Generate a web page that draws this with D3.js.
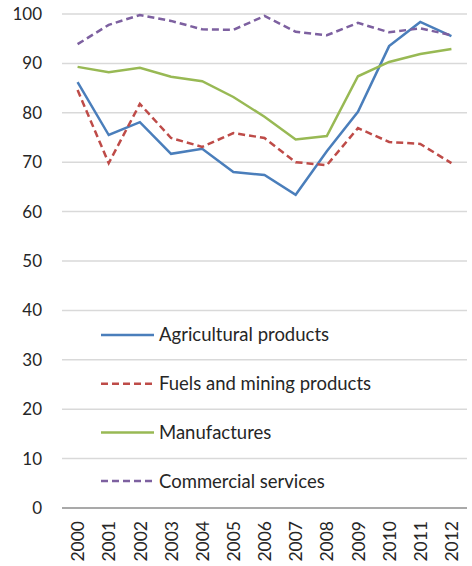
<!DOCTYPE html>
<html>
<head>
<meta charset="utf-8">
<script src="https://cdn.jsdelivr.net/npm/d3@7"></script>
<style>
  body { margin: 0; background: #fff; }
  text { font-family: Lato, "Open Sans", sans-serif; fill: #262626; }
</style>
</head>
<body>
<div id="chart"></div>
<script>
// Data
const years = ["2000", "2001", "2002", "2003", "2004", "2005", "2006", "2007", "2008", "2009", "2010", "2011", "2012"];
const agricultural = [86.2, 75.5, 78.1, 71.7, 72.7, 68.0, 67.4, 63.4, 72.2, 80.2, 93.5, 98.4, 95.5];
const fuels = [84.6, 69.8, 81.8, 74.9, 73.1, 75.9, 74.9, 70.0, 69.4, 76.9, 74.1, 73.7, 69.8];
const manufactures = [89.3, 88.2, 89.1, 87.3, 86.4, 83.2, 79.2, 74.6, 75.3, 87.4, 90.3, 91.9, 92.9];
const commercial = [93.9, 97.8, 99.8, 98.6, 96.9, 96.8, 99.6, 96.4, 95.7, 98.2, 96.3, 97.1, 95.7];
const yTicks = [0, 10, 20, 30, 40, 50, 60, 70, 80, 90, 100];

const seriesList = [
    {name: "Agricultural products", values: agricultural, color: "#4a7ebb", dash: null},
    {name: "Fuels and mining products", values: fuels, color: "#be4b48", dash: "7,4"},
    {name: "Manufactures", values: manufactures, color: "#98b954", dash: null},
    {name: "Commercial services", values: commercial, color: "#7d60a0", dash: "7,4"}
];

// Define margins
const width = 472, height = 566;
const margin = {top: 14, right: 5, bottom: 58, left: 62};
const plotWidth = width - margin.left - margin.right;
const plotHeight = height - margin.top - margin.bottom;

const svg = d3.select("#chart")
    .append("svg")
    .attr("width", width)
    .attr("height", height);

const g = svg.append("g")
    .attr("transform", `translate(${margin.left}, ${margin.top})`);

// Scales
const xScale = d3.scalePoint()
    .domain(years)
    .range([0, plotWidth])
    .padding(0.5);
const yScale = d3.scaleLinear()
    .domain([0, 100])
    .range([plotHeight, 0]);

// Gridlines
g.append("g")
    .selectAll("line")
    .data(yTicks.filter(t => t > 0))
    .enter()
    .append("line")
    .attr("x1", 0)
    .attr("x2", plotWidth)
    .attr("y1", d => yScale(d))
    .attr("y2", d => yScale(d))
    .style("stroke", "#d9d9d9")
    .style("stroke-width", "1.5px");

// Y axis labels
const yAxis = g.append("g")
    .call(d3.axisLeft(yScale).tickValues(yTicks).tickSize(0).tickPadding(20));
yAxis.select(".domain").remove();
yAxis.selectAll("text")
    .style("font-size", "17px")
    .style("font-family", "Lato, sans-serif")
    .attr("fill", "#262626");

// X axis
const xAxis = g.append("g")
    .attr("transform", `translate(0, ${plotHeight})`)
    .call(d3.axisBottom(xScale).tickSize(0).tickPadding(0));
xAxis.select(".domain")
    .attr("d", `M0,0H${plotWidth}`)
    .style("stroke", "#8c8c8c")
    .style("stroke-width", "1.5px");
xAxis.selectAll("text")
    .attr("transform", "rotate(-90)")
    .attr("x", -13)
    .attr("y", 0)
    .attr("dy", "0.35em")
    .style("text-anchor", "end")
    .style("font-size", "17.5px")
    .style("font-family", "Lato, sans-serif")
    .attr("fill", "#262626");

// Lines
const line = d3.line()
    .x((d, i) => xScale(years[i]))
    .y(d => yScale(d));

g.selectAll(".series")
    .data(seriesList)
    .enter()
    .append("path")
    .attr("class", "series")
    .attr("d", d => line(d.values))
    .style("fill", "none")
    .style("stroke", d => d.color)
    .style("stroke-width", "2.5px")
    .style("stroke-dasharray", d => d.dash);

// Legend
const legend = svg.append("g")
    .attr("transform", "translate(101, 335)");

const rows = legend.selectAll(".row")
    .data(seriesList)
    .enter()
    .append("g")
    .attr("class", "row")
    .attr("transform", (d, i) => `translate(0, ${i * 48.7})`);

rows.append("line")
    .attr("x1", 0)
    .attr("x2", 53)
    .style("stroke", d => d.color)
    .style("stroke-width", "2.5px")
    .style("stroke-dasharray", d => d.dash);

rows.append("text")
    .attr("x", 58)
    .attr("dy", "0.35em")
    .style("font-size", "18.5px")
    .text(d => d.name);
</script>
</body>
</html>
